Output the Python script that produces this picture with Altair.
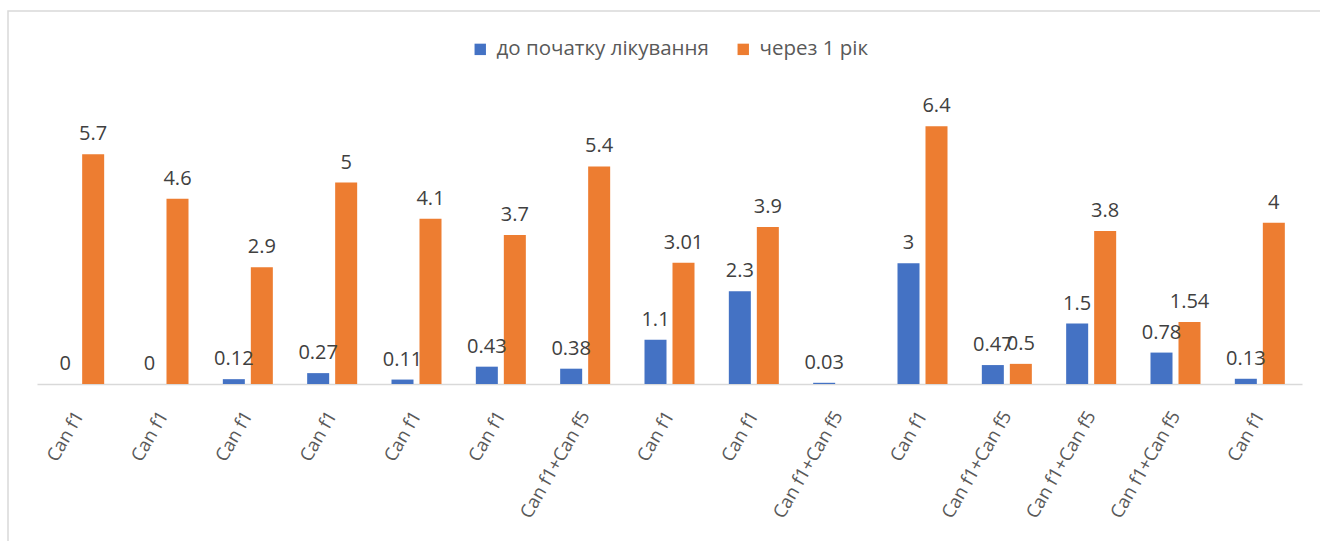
import altair as alt
import pandas as pd

categories = ["Can f1", "Can f1", "Can f1", "Can f1", "Can f1", "Can f1", "Can f1+Can f5",
              "Can f1", "Can f1", "Can f1+Can f5", "Can f1", "Can f1+Can f5", "Can f1+Can f5",
              "Can f1+Can f5", "Can f1"]
before_vals = [0, 0, 0.12, 0.27, 0.11, 0.43, 0.38, 1.1, 2.3, 0.03, 3, 0.47, 1.5, 0.78, 0.13]
before_lbls = ["0", "0", "0.12", "0.27", "0.11", "0.43", "0.38", "1.1", "2.3", "0.03", "3", "0.47", "1.5", "0.78", "0.13"]
after_vals = [5.7, 4.6, 2.9, 5, 4.1, 3.7, 5.4, 3.01, 3.9, None, 6.4, 0.5, 3.8, 1.54, 4]
after_lbls = ["5.7", "4.6", "2.9", "5", "4.1", "3.7", "5.4", "3.01", "3.9", None, "6.4", "0.5", "3.8", "1.54", "4"]
series = ["до початку лікування", "через 1 рік"]

rows = []
for i, c in enumerate(categories):
    rows.append({"idx": i, "cat": c, "series": series[0], "value": before_vals[i], "label": before_lbls[i]})
    if after_vals[i] is not None:
        rows.append({"idx": i, "cat": c, "series": series[1], "value": after_vals[i], "label": after_lbls[i]})
df = pd.DataFrame(rows)

label_map = "{" + ",".join(f"'{i}':'{c}'" for i, c in enumerate(categories)) + "}"

FONT = "Open Sans"
W, H = 1265, 282

x_enc = alt.X("idx:O", scale=alt.Scale(paddingInner=0.336, paddingOuter=0.168),
              axis=alt.Axis(title=None, labelExpr=f"{label_map}[datum.value]", labelAngle=-60,
                            labelAlign="right", labelBaseline="middle", labelPadding=28,
                            labelFont=FONT, labelFontSize=18.5, labelColor="#595959",
                            ticks=False, domainColor="#d9d9d9", domainWidth=1.5, grid=False))
y_enc = alt.Y("value:Q", scale=alt.Scale(domain=[0, 7], nice=False), axis=None)
xo = alt.XOffset("series:N", scale=alt.Scale(domain=series, paddingInner=0.214, paddingOuter=0.107))
color = alt.Color("series:N", scale=alt.Scale(domain=series, range=["#4472C4", "#ED7D31"]),
                  legend=alt.Legend(title=None, orient="none", legendX=433, legendY=-63,
                                    direction="horizontal", symbolType="square", symbolSize=130,
                                    symbolStrokeWidth=0, labelFont=FONT, labelFontSize=20.5,
                                    labelColor="#595959", columnPadding=24, labelOffset=6,
                                    labelLimit=400))

bars = alt.Chart(df).mark_bar().encode(x=x_enc, xOffset=xo, y=y_enc, color=color)
texts = alt.Chart(df).mark_text(baseline="bottom", dy=-10, font=FONT, fontSize=20, color="#404040").encode(
    x=x_enc, xOffset=xo, y=y_enc, text="label:N")

border = alt.Chart(pd.DataFrame({"a": [0]})).mark_rect(fill=None, stroke="#d9d9d9", strokeWidth=1.5).encode(
    x=alt.value(-29), x2=alt.value(1330), y=alt.value(-91), y2=alt.value(470))

chart = alt.layer(border, bars, texts).properties(
    width=W, height=H, autosize=alt.AutoSizeParams(type="none"),
    padding={"left": 37, "top": 102, "right": 18, "bottom": 157},
    background="white"
).configure_view(strokeWidth=0, stroke="transparent")

chart.save("out.html", embed_options={"renderer": "svg", "actions": False})
